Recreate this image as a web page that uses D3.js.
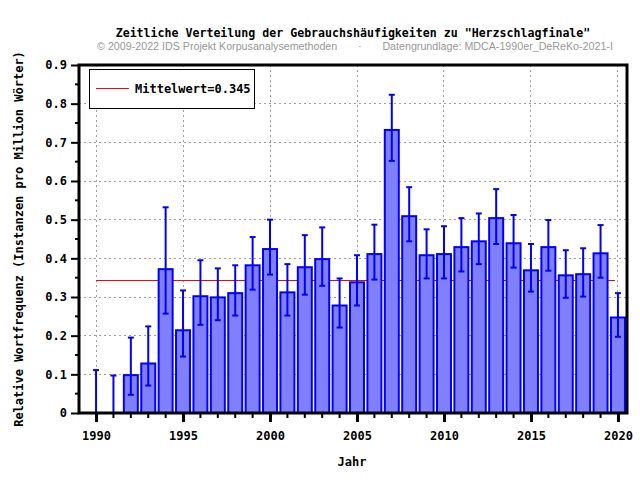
<!DOCTYPE html>
<html>
<head>
<meta charset="utf-8">
<script src="https://cdn.jsdelivr.net/npm/d3@7"></script>
<style>
  body { margin: 0; background: #fff; }
  svg { display: block; }
</style>
</head>
<body>
<div id="chart"></div>
<script>
var years = [1990, 1991, 1992, 1993, 1994, 1995, 1996, 1997, 1998, 1999, 2000,
  2001, 2002, 2003, 2004, 2005, 2006, 2007, 2008, 2009, 2010,
  2011, 2012, 2013, 2014, 2015, 2016, 2017, 2018, 2019, 2020];
var freq = [0, 0, 0.098, 0.128, 0.372, 0.214, 0.302, 0.299, 0.310, 0.382, 0.424,
  0.312, 0.377, 0.398, 0.278, 0.338, 0.411, 0.732, 0.509, 0.408, 0.411,
  0.429, 0.444, 0.504, 0.439, 0.369, 0.429, 0.356, 0.359, 0.413, 0.247];
var errLow = [0, 0, 0.047, 0.071, 0.257, 0.146, 0.228, 0.240, 0.252, 0.319, 0.358,
  0.252, 0.306, 0.329, 0.221, 0.278, 0.345, 0.652, 0.444, 0.348, 0.348,
  0.366, 0.385, 0.437, 0.376, 0.314, 0.368, 0.298, 0.301, 0.350, 0.197];
var errHigh = [0.111, 0.097, 0.195, 0.224, 0.532, 0.317, 0.395, 0.374, 0.382, 0.455, 0.500,
  0.385, 0.460, 0.480, 0.348, 0.408, 0.487, 0.823, 0.584, 0.475, 0.483,
  0.504, 0.516, 0.579, 0.512, 0.437, 0.499, 0.421, 0.426, 0.486, 0.310];
var meanValue = 0.345;
var yTicks = [0, 0.1, 0.2, 0.3, 0.4, 0.5, 0.6, 0.7, 0.8, 0.9];
var xTicks = [1990, 1995, 2000, 2005, 2010, 2015, 2020];

var title = "Zeitliche Verteilung der Gebrauchshäufigkeiten zu \"Herzschlagfinale\"";
var subtitle = "© 2009-2022 IDS Projekt Korpusanalysemethoden       ·       Datengrundlage: MDCA-1990er_DeReKo-2021-I";

var width = 640, height = 480;
var margin = { left: 79, right: 13, top: 65, bottom: 67 };
var mono = "'DejaVu Sans Mono', monospace";

var svg = d3.select("#chart").append("svg")
  .attr("width", width)
  .attr("height", height);

var x = d3.scaleLinear().domain([1989.02, 2020.52]).range([margin.left, width - margin.right]);
var y = d3.scaleLinear().domain([0, 0.9]).range([height - margin.bottom, margin.top]);

var data = years.map(function(yr, i) {
  return { year: yr, v: freq[i], lo: errLow[i], hi: errHigh[i] };
});

// grid
var grid = svg.append("g").attr("shape-rendering", "crispEdges");
grid.selectAll("line.gy")
  .data(yTicks.slice(1, -1))
  .enter().append("line")
  .attr("x1", margin.left).attr("x2", width - margin.right)
  .attr("y1", function(d) { return y(d); }).attr("y2", function(d) { return y(d); })
  .attr("stroke", "#a0a0a0").attr("stroke-dasharray", "2,3");
grid.selectAll("line.gx")
  .data(xTicks)
  .enter().append("line")
  .attr("x1", function(d) { return x(d); }).attr("x2", function(d) { return x(d); })
  .attr("y1", margin.top).attr("y2", height - margin.bottom)
  .attr("stroke", "#a0a0a0").attr("stroke-dasharray", "2,3");

// mean line
var my = Math.round(y(meanValue)) + 0.5;
svg.append("line")
  .attr("x1", x(1990)).attr("x2", x(2020) - 3)
  .attr("y1", my).attr("y2", my)
  .attr("stroke", "#ff0000").attr("stroke-width", 1)
  .attr("shape-rendering", "crispEdges");

// bars
var bw = 14;
svg.selectAll("rect.bar")
  .data(data.filter(function(d) { return d.v > 0; }))
  .enter().append("rect")
  .attr("x", function(d) { return x(d.year) - bw / 2; })
  .attr("y", function(d) { return y(d.v); })
  .attr("width", bw)
  .attr("height", function(d) { return y(0) - y(d.v); })
  .attr("fill", "#8080ff")
  .attr("stroke", "#0000ff")
  .attr("stroke-width", 2);

// error bars
var eb = svg.append("g").attr("stroke", "#0000ff").attr("stroke-width", 2);
eb.selectAll("line.v")
  .data(data).enter().append("line")
  .attr("x1", function(d) { return x(d.year); }).attr("x2", function(d) { return x(d.year); })
  .attr("y1", function(d) { return y(d.lo); }).attr("y2", function(d) { return y(d.hi); });
eb.selectAll("line.h")
  .data(data).enter().append("line")
  .attr("x1", function(d) { return x(d.year) - 3; }).attr("x2", function(d) { return x(d.year) + 3; })
  .attr("y1", function(d) { return y(d.hi); }).attr("y2", function(d) { return y(d.hi); });
eb.selectAll("line.l")
  .data(data).enter().append("line")
  .attr("x1", function(d) { return x(d.year) - 3; }).attr("x2", function(d) { return x(d.year) + 3; })
  .attr("y1", function(d) { return y(d.lo); }).attr("y2", function(d) { return y(d.lo); });

// frame
svg.append("rect")
  .attr("x", margin.left).attr("y", margin.top)
  .attr("width", width - margin.left - margin.right)
  .attr("height", height - margin.top - margin.bottom)
  .attr("fill", "none").attr("stroke", "#000").attr("stroke-width", 3);

// y axis
var yMinor = d3.range(0.05, 0.9, 0.1);
var yAxis = svg.append("g")
  .attr("transform", "translate(" + margin.left + ",0)")
  .call(d3.axisLeft(y).tickValues(yTicks).tickSize(8).tickPadding(4)
    .tickFormat(function(d) { return d === 0 ? "0" : d3.format(".1f")(d); }));
yAxis.select(".domain").remove();
yAxis.selectAll("line").attr("stroke-width", 2);
yAxis.selectAll("text").attr("font-family", mono).attr("font-weight", "bold").attr("font-size", 12);
svg.append("g").selectAll("line")
  .data(yMinor).enter().append("line")
  .attr("x1", margin.left - 4).attr("x2", margin.left)
  .attr("y1", function(d) { return y(d); }).attr("y2", function(d) { return y(d); })
  .attr("stroke", "#000").attr("stroke-width", 2);

// x axis
var xAxis = svg.append("g")
  .attr("transform", "translate(0," + y(0) + ")")
  .call(d3.axisBottom(x).tickValues(xTicks).tickSize(9).tickPadding(9).tickFormat(d3.format("d")));
xAxis.select(".domain").remove();
xAxis.selectAll("line").attr("stroke-width", 3);
xAxis.selectAll("text").attr("font-family", mono).attr("font-weight", "bold").attr("font-size", 12);
svg.append("g").selectAll("line")
  .data(years.filter(function(d) { return d % 5 !== 0; })).enter().append("line")
  .attr("x1", function(d) { return x(d); }).attr("x2", function(d) { return x(d); })
  .attr("y1", y(0)).attr("y2", y(0) + 5)
  .attr("stroke", "#000").attr("stroke-width", 2);

// titles
svg.append("text")
  .attr("x", 353).attr("y", 37)
  .attr("text-anchor", "middle")
  .attr("font-family", mono).attr("font-weight", "bold").attr("font-size", 11.6)
  .text(title);
svg.append("text")
  .attr("x", 355).attr("y", 50)
  .attr("text-anchor", "middle")
  .attr("font-family", "'Liberation Sans', Arial, sans-serif").attr("font-size", 10.7)
  .attr("fill", "#999")
  .attr("xml:space", "preserve")
  .text(subtitle);
svg.append("text")
  .attr("x", 352).attr("y", 466)
  .attr("text-anchor", "middle")
  .attr("font-family", mono).attr("font-weight", "bold").attr("font-size", 12)
  .text("Jahr");
svg.append("text")
  .attr("transform", "translate(23," + ((margin.top + height - margin.bottom) / 2) + ") rotate(-90)")
  .attr("text-anchor", "middle")
  .attr("font-family", mono).attr("font-weight", "bold").attr("font-size", 12)
  .text("Relative Wortfrequenz (Instanzen pro Million Wörter)");

// legend
var lg = svg.append("g");
lg.append("rect")
  .attr("x", 89.5).attr("y", 69.5).attr("width", 165).attr("height", 39)
  .attr("fill", "#fff").attr("stroke", "#000").attr("stroke-width", 1);
lg.append("line")
  .attr("x1", 96).attr("x2", 129).attr("y1", 88.5).attr("y2", 88.5)
  .attr("stroke", "#ff0000").attr("stroke-width", 1);
lg.append("text")
  .attr("x", 135).attr("y", 93)
  .attr("font-family", mono).attr("font-weight", "bold").attr("font-size", 12)
  .text("Mittelwert=" + meanValue);
</script>
</body>
</html>
